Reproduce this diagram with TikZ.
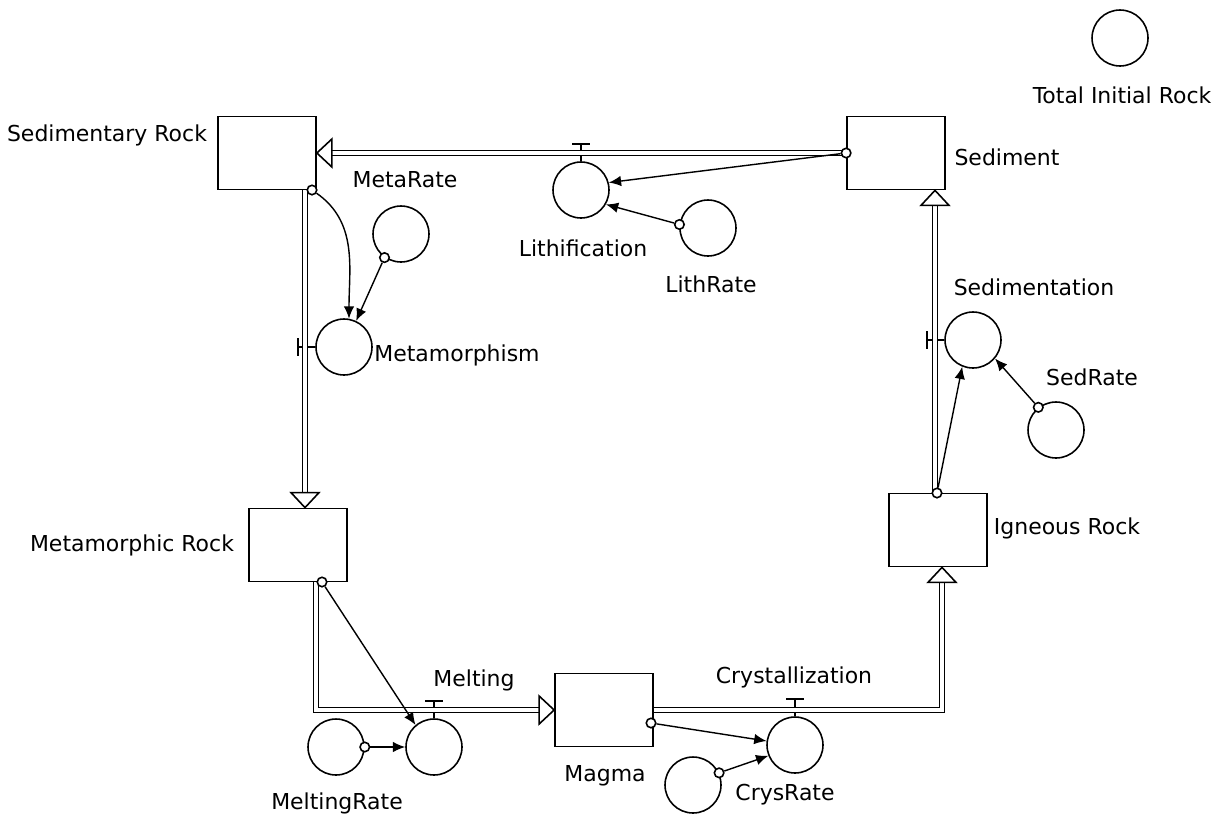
\documentclass[tikz,border=0pt]{standalone}
\usepackage{fontspec}
\setmainfont{DejaVu Sans}
\usetikzlibrary{arrows.meta}

\tikzset{
  stock/.style={draw, rectangle, line width=1pt, minimum width=1.96cm, minimum height=1.46cm, inner sep=0pt},
  conv/.style={draw, circle, line width=0.9pt, minimum size=1.12cm, inner sep=0pt},
  tap/.style={draw, circle, line width=0.9pt, fill=white, minimum size=0.19cm, inner sep=0pt},
  pipe/.style={double, double distance=2pt, line width=0.9pt},
  info/.style={line width=0.8pt, -{Latex[length=7pt,width=6pt]}},
  valve/.style={line width=0.9pt},
  lbl/.style={font=\fontsize{12.5}{15}\selectfont, inner sep=0pt},
  pics/flowhead/.style={code={\draw[fill=white, line width=0.9pt] (0,0) -- (-15,-14) -- (-15,14) -- cycle;}}
}

\begin{document}
\begin{tikzpicture}[x=0.02cm, y=-0.02cm]
  \useasboundingbox (0,0) rectangle (1230,815);
  % stocks
  \node[stock] (sedrock) at (267,153) {};
  \node[stock] (sediment) at (896,153) {};
  \node[stock] (metarock) at (298,545) {};
  \node[stock] (igneous) at (938,530) {};
  \node[stock] (magma) at (604,710) {};
  % converters
  \node[conv] (lith) at (581,190) {};
  \node[conv] (lithrate) at (708,228) {};
  \node[conv] (meta) at (344,347) {};
  \node[conv] (metarate) at (401,234) {};
  \node[conv] (melt) at (434,747) {};
  \node[conv] (meltrate) at (336,747) {};
  \node[conv] (crys) at (795,745) {};
  \node[conv] (crysrate) at (693,785) {};
  \node[conv] (sedim) at (973,340) {};
  \node[conv] (sedrate) at (1056,430) {};
  \node[conv] (total) at (1120,38) {};
  % valves
  \draw[valve] (lith.north) -- ++(0,-17) ++(-9,0) -- ++(18,0);
  \draw[valve] (meta.west) -- ++(-17,0) ++(0,-9) -- ++(0,18);
  \draw[valve] (melt.north) -- ++(0,-17) ++(-9,0) -- ++(18,0);
  \draw[valve] (crys.north) -- ++(0,-17) ++(-9,0) -- ++(18,0);
  \draw[valve] (sedim.west) -- ++(-17,0) ++(0,-9) -- ++(0,18);
  % pipes
  \coordinate (c2) at (305,350);
  \coordinate (c3) at (316,650);
  \coordinate (c4) at (942,650);
  \coordinate (c5) at (935,350);
  \draw[pipe, shorten >=3pt] (sediment.west) -- (sedrock.east);
  \draw[pipe, shorten >=3pt] (sedrock.south -| c2) -- (metarock.north -| c2);
  \draw[pipe, shorten >=3pt] (metarock.south -| c3) |- (magma.west);
  \draw[pipe, shorten >=3pt] (magma.east) -| (igneous.south -| c4);
  \draw[pipe, shorten >=3pt] (igneous.north -| c5) -- (sediment.south -| c5);
  \pic[rotate=180] at (sedrock.east) {flowhead};
  \pic[rotate=-90] at (metarock.north -| c2) {flowhead};
  \pic at (magma.west) {flowhead};
  \pic[rotate=90] at (igneous.south -| c4) {flowhead};
  \pic[rotate=90] at (sediment.south -| c5) {flowhead};
  % taps
  \node[tap] (t1) at (sediment.west) {};
  \node[tap] (t2) at (312,190) {};
  \node[tap] (t3) at (322,582) {};
  \node[tap] (t4) at (651,723) {};
  \node[tap] (t5) at (937,493) {};
  \node[tap] (tmeta) at (metarate.-125) {};
  \node[tap] (tlith) at (lithrate.173) {};
  \node[tap] (tmelt) at (meltrate.east) {};
  \node[tap] (tcrys) at (crysrate.25) {};
  \node[tap] (tsed) at (sedrate.128) {};
  % connectors
  \draw[info] (t1) -- (lith.15);
  \draw[info] (tlith) -- (lith.-30);
  \draw[info] (t2) to[out=-35, in=90] (meta.80);
  \draw[info] (tmeta) -- (meta.65);
  \draw[info] (t3) -- (melt.130);
  \draw[info] (tmelt) -- (melt.west);
  \draw[info] (t4) -- (crys.172);
  \draw[info] (tcrys) -- (crys.-158);
  \draw[info] (t5) -- (sedim.-112);
  \draw[info] (tsed) -- (sedim.-40);
  % labels
  \node[lbl] (l1) at (107,135) {Sedimentary Rock};
  \node[lbl] (l2) at (1007,157) {Sediment};
  \node[lbl] (l3) at (405,180) {MetaRate};
  \node[lbl] (l4) at (583,248) {Lithification};
  \node[lbl] (l5) at (711,284) {LithRate};
  \node[lbl] (l6) at (457,355) {Metamorphism};
  \node[lbl] (l7) at (1034,287) {Sedimentation};
  \node[lbl] (l8) at (1092,377) {SedRate};
  \node[lbl] (l9) at (132,545) {Metamorphic Rock};
  \node[lbl] (l10) at (1067,528) {Igneous Rock};
  \node[lbl] (l11) at (474,680) {Melting};
  \node[lbl] (l12) at (794,677) {Crystallization};
  \node[lbl] (l13) at (337,803) {MeltingRate};
  \node[lbl] (l14) at (605,776) {Magma};
  \node[lbl] (l15) at (785,795) {CrysRate};
  \node[lbl] (l16) at (1122,95) {Total Initial Rock};
\end{tikzpicture}
\end{document}
